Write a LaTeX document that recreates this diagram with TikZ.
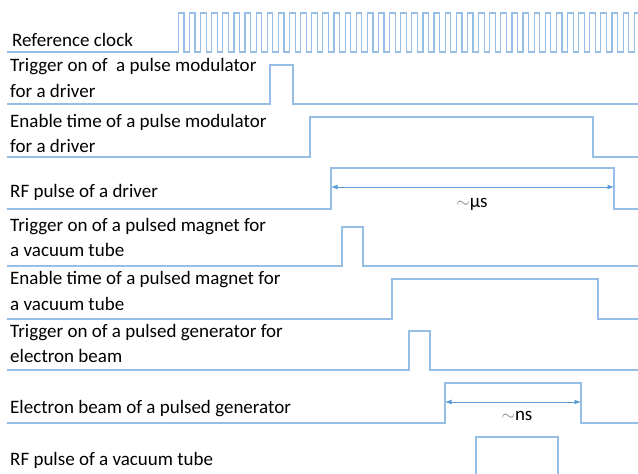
\documentclass[tikz,border=0pt]{standalone}
\usepackage{fontspec}
\setmainfont{Carlito}
\usetikzlibrary{arrows.meta}
\definecolor{wave}{RGB}{150,190,230}
\definecolor{arr}{RGB}{91,155,213}
\begin{document}
\begin{tikzpicture}[x=1pt,y=-1pt,
  lbl/.style={anchor=base west,inner sep=0pt,font=\fontsize{19}{23}\selectfont},
  sig/.style={draw=wave,line width=1.2pt,line join=miter},
  dim/.style={draw=arr,line width=0.9pt,{Latex[length=6.5pt,width=5pt]}-{Latex[length=6.5pt,width=5pt]}},
  dimlbl/.style={anchor=base,inner sep=0pt,font=\fontsize{19}{23}\selectfont}]
\useasboundingbox (0,0) rectangle (638,474);
\begin{scope}
\clip (0,0) rectangle (638,474);
% labels
\node[lbl] (l1)  at (12,46)  {Reference clock};
\node[lbl] (l2a) at (10,71)  {Trigger on of\ \ a pulse modulator};
\node[lbl] (l2b) at (10,97)  {for a driver};
\node[lbl] (l3a) at (10,127) {Enable time of a pulse modulator};
\node[lbl] (l3b) at (10,152) {for a driver};
\node[lbl] (l4)  at (10,197) {RF pulse of a driver};
\node[lbl] (l5a) at (10,231) {Trigger on of a pulsed magnet for};
\node[lbl] (l5b) at (10,256) {a vacuum tube};
\node[lbl] (l6a) at (10,284) {Enable time of a pulsed magnet for};
\node[lbl] (l6b) at (10,310) {a vacuum tube};
\node[lbl] (l7a) at (10,337) {Trigger on of a pulsed generator for};
\node[lbl] (l7b) at (10,362) {electron beam};
\node[lbl] (l8)  at (10,413) {Electron beam of a pulsed generator};
\node[lbl] (l9)  at (10,465) {RF pulse of a vacuum tube};
% clock
\draw[sig] (7,52) -- (178.3,52)
  \foreach \k in {0,...,41} { -- ++(0,-39) -- ++(5.6,0) -- ++(0,39) -- ++(5.52,0) };
% waveforms
\draw[sig] (7,104) -- (270,104) -- (270,65) -- (293,65) -- (293,104) -- (640,104);
\draw[sig] (7,157) -- (310,157) -- (310,117) -- (593,117) -- (593,157) -- (640,157);
\draw[sig] (7,209) -- (331,209) -- (331,168) -- (614,168) -- (614,209) -- (640,209);
\draw[sig] (7,266) -- (342,266) -- (342,227) -- (363,227) -- (363,266) -- (640,266);
\draw[sig] (7,319) -- (392,319) -- (392,279) -- (598,279) -- (598,319) -- (640,319);
\draw[sig] (7,370) -- (409,370) -- (409,331) -- (430,331) -- (430,370) -- (640,370);
\draw[sig] (7,423) -- (445,423) -- (445,383) -- (581,383) -- (581,423) -- (640,423);
\draw[sig] (476,480) -- (476,437) -- (558,437) -- (558,480);
% dimension arrows
\coordinate (us1) at (331,187);
\coordinate (us2) at (614,187);
\draw[dim] (us1) -- (us2);
\node[dimlbl] (usl) at (472,207) {{\color{gray}\(\sim\)}μs};
\coordinate (ns1) at (445,402);
\coordinate (ns2) at (581,402);
\draw[dim] (ns1) -- (ns2);
\node[dimlbl] (nsl) at (517,420) {{\color{gray}\(\sim\)}ns};
\end{scope}
\end{tikzpicture}
\end{document}
